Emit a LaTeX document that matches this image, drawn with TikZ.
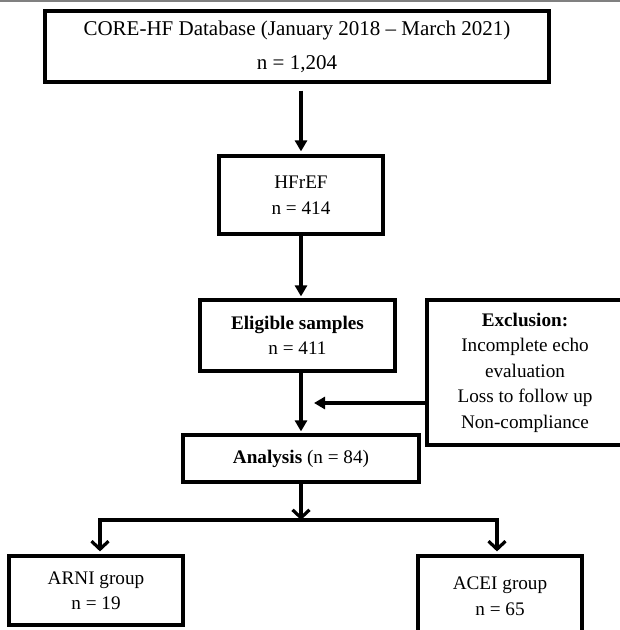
\documentclass[tikz,border=0pt]{standalone}
\usepackage{fontspec}
\setmainfont{Liberation Serif}
\usetikzlibrary{arrows.meta}

\begin{document}
\begin{tikzpicture}[x=1pt,y=-1pt,font=\fontsize{19.2}{25.5}\selectfont,
     box/.style={draw,align=center,inner sep=2pt,line width=3.2pt,fill=white},
     arr/.style={line width=3.2pt,-{Triangle[length=11pt,width=12pt]}},
     vee/.style={line width=3.2pt,-{Straight Barb[length=8pt,width=17pt]}}]
    \clip (0,0) rectangle (620,630);
    \draw[gray,line width=1.6pt] (0,1) -- (620,1);
    \node[box,minimum width=504pt,minimum height=71pt,font=\fontsize{21}{34}\selectfont] (db) at (297,46.5)
        {CORE-HF Database (January 2018 -- March 2021)\\ n = 1,204};
    \node[box,minimum width=164pt,minimum height=78pt] (hfref) at (301,195) {HFrEF\\ n = 414};
    \node[box,minimum width=195pt,minimum height=71pt] (elig) at (297.5,335.5) {\textbf{Eligible samples}\\ n = 411};
    \node[box,minimum width=196pt,minimum height=145pt] (excl) at (525,372.5)
        {\textbf{Exclusion:}\\ Incomplete echo\\ evaluation\\ Loss to follow up\\ Non-compliance};
    \node[box,minimum width=236pt,minimum height=47pt] (anal) at (301,458.5) {\textbf{Analysis} (n = 84)};
    \node[box,minimum width=174pt,minimum height=69pt] (arni) at (96,590.5) {ARNI group\\ n = 19};
    \node[box,minimum width=164pt,minimum height=80pt] (acei) at (500,596) {ACEI group\\ n = 65};
    \coordinate (cut) at (314,403);
    \coordinate (split) at (301,520);
    \coordinate (lt) at (100,520);
    \coordinate (rt) at (497,520);
    \draw[arr,shorten <=7pt,shorten >=3pt] (db.south -| hfref.north) -- (hfref.north);
    \draw[arr,shorten >=2pt] (hfref.south) -- (hfref.south |- elig.north);
    \draw[arr,shorten >=2pt] (hfref.south |- elig.south) -- (hfref.south |- anal.north);
    \draw[arr] (excl.west |- cut) -- (cut);
    \draw[vee] (anal.south) -- (split);
    \draw[line width=3.2pt,line cap=rect] (lt) -- (rt);
    \draw[vee,shorten >=3pt] (lt) -- (lt |- arni.north);
    \draw[vee,shorten >=3pt] (rt) -- (rt |- acei.north);
\end{tikzpicture}
\end{document}
